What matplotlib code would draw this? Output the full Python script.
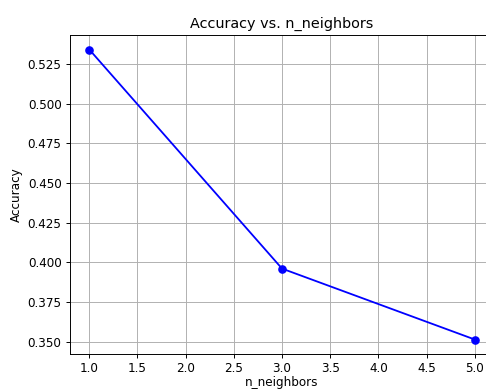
import matplotlib
matplotlib.use("Agg")
import matplotlib.pyplot as plt

n_neighbors = [1, 3, 5]
accuracy = [0.5342, 0.3961, 0.3514]

s = 0.864
plt.rcParams['font.size'] = 10 * s
plt.rcParams['font.family'] = ['DejaVu Sans']

fig = plt.figure(figsize=(4.86, 3.89), dpi=100)
ax = fig.add_axes([70/486, 35/389, 424/486, 319/389])
ax.plot(n_neighbors, accuracy, 'o-', color='blue', linewidth=1.5*s, markersize=6*s)
ax.set_title('Accuracy vs. n_neighbors', fontsize=12*s, pad=6*s)
ax.set_xlabel('n_neighbors', labelpad=0.5)
ax.set_ylabel('Accuracy', labelpad=4*s)
ax.set_xticks([1.0, 1.5, 2.0, 2.5, 3.0, 3.5, 4.0, 4.5, 5.0])
ax.set_yticks([0.350, 0.375, 0.400, 0.425, 0.450, 0.475, 0.500, 0.525])
ax.grid(True, linewidth=0.8*s, color='#b0b0b0')
for sp in ax.spines.values():
    sp.set_linewidth(0.8*s)
ax.tick_params(width=0.8*s, length=3.5*s, pad=3.5*s)
fig.savefig('out.png', dpi=100)
